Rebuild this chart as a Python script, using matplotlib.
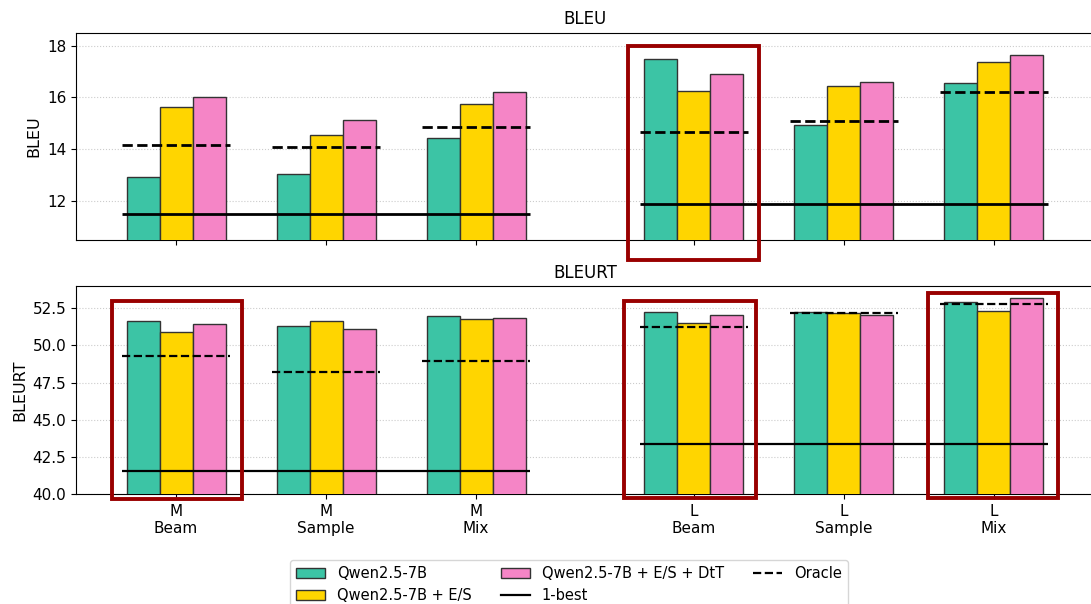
#!/usr/bin/env python3
"""plot.py - BLEU / BLEURT grouped bars with oracle and 1-best lines"""

import matplotlib
matplotlib.use("Agg")
import matplotlib.pyplot as plt
import numpy as np
from matplotlib.lines import Line2D
from matplotlib.patches import Patch, Rectangle

# groups on the x axis
groups = ["M\nBeam", "M\nSample", "M\nMix", "L\nBeam", "L\nSample", "L\nMix"]
positions = [0, 1, 2, 3.45, 4.45, 5.45]
series = ["Qwen2.5-7B", "Qwen2.5-7B + E/S", "Qwen2.5-7B + E/S + DtT"]
colors = ["#3cc4a5", "#ffd500", "#f585c6"]

# BLEU
bleu_base = [12.95, 13.03, 14.42, 17.48, 14.92, 16.54]
bleu_es = [15.62, 14.56, 15.76, 16.25, 16.46, 17.38]
bleu_dtt = [16.03, 15.14, 16.22, 16.89, 16.61, 17.63]
bleu_oracle = [14.15, 14.08, 14.85, 14.67, 15.09, 16.22]
bleu_onebest = [11.50, 11.87]  # M, L

# BLEURT
bleurt_base = [51.64, 51.31, 51.96, 52.27, 52.27, 52.92]
bleurt_es = [50.90, 51.62, 51.76, 51.49, 52.18, 52.34]
bleurt_dtt = [51.44, 51.13, 51.82, 52.07, 52.05, 53.17]
bleurt_oracle = [49.31, 48.19, 48.97, 51.22, 52.20, 52.76]
bleurt_onebest = [41.53, 43.34]

W, H = 1091, 604
width = 0.22
half = 0.36


def panel(ax, vals, oracle, onebest, title, lw):
    x = np.array(positions)
    for i, v in enumerate(vals):
        ax.bar(x + (i - 1) * width, v, width, color=colors[i],
               edgecolor="#333333", linewidth=1, zorder=3)
    for xi, o in zip(x, oracle):
        ax.hlines(o, xi - half, xi + half, colors="black", linestyles="--",
                  linewidth=lw, zorder=4)
    # 1-best spans each size group
    ax.hlines(onebest[0], x[0] - half, x[2] + half, colors="black",
              linewidth=lw, zorder=4)
    ax.hlines(onebest[1], x[3] - half, x[5] + half, colors="black",
              linewidth=lw, zorder=4)
    ax.set_title(title, fontsize=12)
    ax.set_ylabel(title, fontsize=11.5)
    ax.grid(axis="y", linestyle=":", color="#cccccc", linewidth=0.8, zorder=0)
    ax.set_xticks(x)
    ax.tick_params(labelsize=11)
    ax.set_xlim(-0.667, 6.12)


fig = plt.figure(figsize=(W / 100, H / 100), dpi=100)
ax1 = fig.add_axes([76 / W, 1 - 240 / H, (1094 - 76) / W, 207.3 / H])
ax2 = fig.add_axes([76 / W, 1 - 494 / H, (1094 - 76) / W, 208 / H])

panel(ax1, [bleu_base, bleu_es, bleu_dtt], bleu_oracle, bleu_onebest, "BLEU", 2.0)
ax1.set_ylim(10.5, 18.5)
ax1.set_yticks([12, 14, 16, 18])
ax1.set_xticklabels([])

panel(ax2, [bleurt_base, bleurt_es, bleurt_dtt], bleurt_oracle, bleurt_onebest,
      "BLEURT", 1.6)
ax2.set_ylim(40, 54)
ax2.set_yticks([40, 42.5, 45, 47.5, 50, 52.5])
ax2.set_yticklabels(["40.0", "42.5", "45.0", "47.5", "50.0", "52.5"])
ax2.set_xticklabels(groups)

# highlight boxes (pixel corners: left, top, right, bottom)
boxes = [(628, 46, 759, 260), (112, 301, 242, 499),
         (623.5, 301, 755.7, 498), (928, 293.3, 1058, 498)]
for l, t, r, b in boxes:
    fig.add_artist(Rectangle((l / W, 1 - b / H), (r - l) / W, (b - t) / H,
                             transform=fig.transFigure, fill=False,
                             edgecolor="#990000", linewidth=2.8, zorder=10))

handles = [Patch(facecolor=colors[0], edgecolor="#333333", label=series[0]),
           Patch(facecolor=colors[1], edgecolor="#333333", label=series[1]),
           Patch(facecolor=colors[2], edgecolor="#333333", label=series[2]),
           Line2D([], [], color="black", linewidth=1.6, label="1-best"),
           Line2D([], [], color="black", linestyle="--", linewidth=1.6,
                  label="Oracle")]
fig.legend(handles=handles, loc="upper center", ncol=3, fontsize=10.5,
           bbox_to_anchor=(569 / W, 1 - 553 / H), frameon=True)

fig.savefig("out.png", dpi=100)
